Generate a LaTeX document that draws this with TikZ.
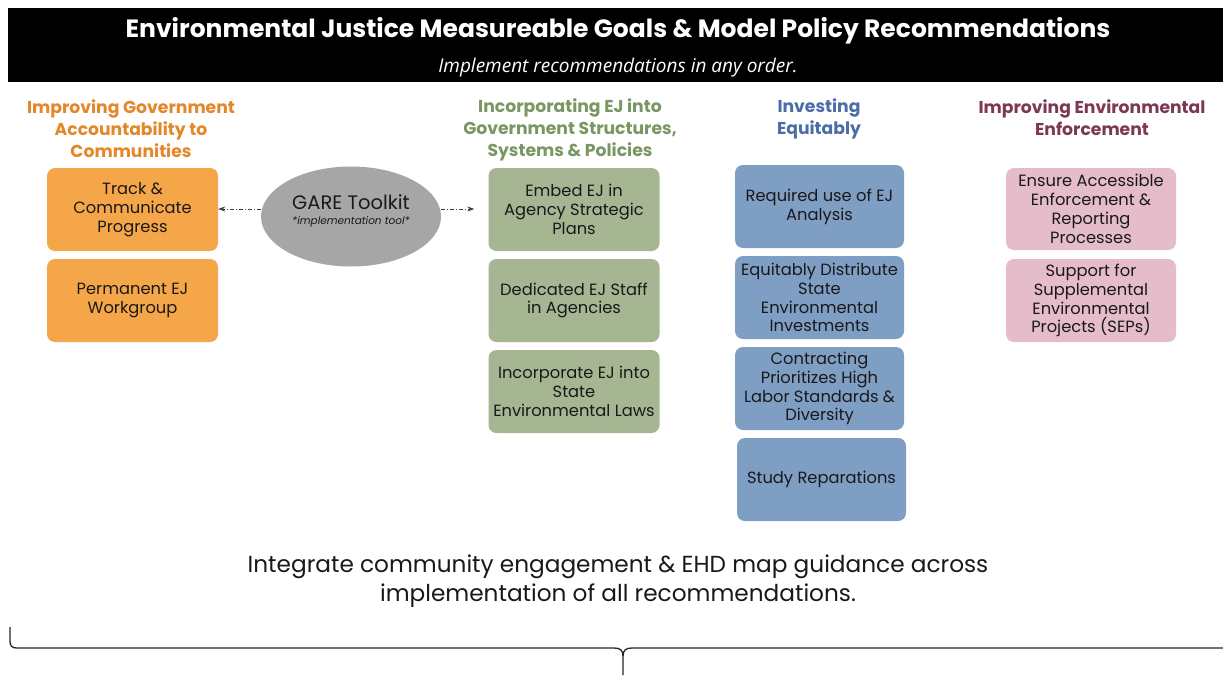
\documentclass[tikz,border=0pt]{standalone}
\usepackage{fontspec}
\setmainfont{Poppins}
\newfontfamily\subfont{Open Sans}
\usetikzlibrary{arrows.meta,shapes.geometric}
\definecolor{orhead}{RGB}{228,135,40}
\definecolor{orbox}{RGB}{244,166,72}
\definecolor{grhead}{RGB}{122,150,98}
\definecolor{grbox}{RGB}{166,181,146}
\definecolor{blhead}{RGB}{74,110,165}
\definecolor{blbox}{RGB}{127,158,196}
\definecolor{pkhead}{RGB}{126,56,85}
\definecolor{pkbox}{RGB}{229,188,202}
\definecolor{garegray}{RGB}{166,166,166}
\definecolor{txt}{RGB}{25,25,25}
\tikzset{
  itembox/.style={rounded corners=8pt, minimum width=171pt, minimum height=83pt, inner sep=2pt, align=center, text=txt, font=\fontsize{16.3}{18.8}\selectfont},
  headtxt/.style={align=center, font=\fontsize{17.2}{22}\selectfont\bfseries},
  conn/.style={-{Stealth[length=7pt,width=5pt]}, dash pattern=on 4pt off 2pt on 1pt off 2pt, line width=0.8pt, draw=black!75}
}
\begin{document}
\begin{tikzpicture}[x=1pt,y=-1pt]
\useasboundingbox (0,0) rectangle (1223,675);
\fill[white] (0,0) rectangle (1223,675);
% header
\fill[black] (8,8) rectangle (1223,82);
\node[text=white, font=\fontsize{25}{28}\selectfont\bfseries] (title) at (618,30.5) {Environmental Justice Measureable Goals \& Model Policy Recommendations};
\node[text=white, font=\subfont\itshape\fontsize{19}{22}\selectfont] (sub) at (618,67.5) {Implement recommendations in any order.};
% headings
\node[headtxt, text=orhead] (h1) at (131,129) {Improving Government\\Accountability to\\Communities};
\node[headtxt, text=grhead] (h2) at (570,130) {Incorporating EJ into\\Government Structures,\\Systems \& Policies};
\node[headtxt, text=blhead] (h3) at (819,119) {Investing\\Equitably};
\node[headtxt, text=pkhead] (h4) at (1092,117.5) {Improving Environmental\\Enforcement};
% orange
\node[itembox, fill=orbox] (o1) at (132.5,209.5) {Track \&\\Communicate\\Progress};
\node[itembox, fill=orbox] (o2) at (132.5,300.5) {Permanent EJ\\Workgroup};
% green
\node[itembox, fill=grbox] (g1) at (574,209.5) {Embed EJ in\\Agency Strategic\\Plans};
\node[itembox, fill=grbox] (g2) at (574,300.5) {Dedicated EJ Staff\\in Agencies};
\node[itembox, fill=grbox] (g3) at (574,391.5) {Incorporate EJ into\\State\\Environmental Laws};
% blue
\node[itembox, fill=blbox, minimum width=169pt] (b1) at (819.5,206.5) {Required use of EJ\\Analysis};
\node[itembox, fill=blbox, minimum width=169pt] (b2) at (819.5,297.5) {Equitably Distribute\\State\\Environmental\\Investments};
\node[itembox, fill=blbox, minimum width=169pt] (b3) at (819.5,388.5) {Contracting\\Prioritizes High\\Labor Standards \&\\Diversity};
\node[itembox, fill=blbox, minimum width=169pt] (b4) at (821.5,479.5) {Study Reparations};
% pink
\node[itembox, fill=pkbox, minimum width=170pt, minimum height=82pt] (p1) at (1091,209) {Ensure Accessible\\Enforcement \&\\Reporting\\Processes};
\node[itembox, fill=pkbox, minimum width=170pt] (p2) at (1091,300.5) {Support for\\Supplemental\\Environmental\\Projects (SEPs)};
% GARE
\node[ellipse, fill=garegray, minimum width=180pt, minimum height=100pt, inner sep=0pt, align=center] (gare) at (351,216.5) {};
\node[font=\fontsize{19.5}{22}\selectfont, text=txt] (garet) at (351,202) {GARE Toolkit};
\node[font=\fontsize{10.5}{12}\selectfont\itshape, text=txt] (garei) at (351,221.5) {*implementation tool*};
\coordinate (gl) at (261,209);
\coordinate (gr) at (441,209);
\draw[conn] (gl) -- (o1.east |- gl);
\draw[conn] (gr) -- ([xshift=-14pt]g1.west |- gr);
% bottom text
\node[align=center, text=txt, font=\fontsize{23.2}{29}\selectfont] (bottom) at (618,581.5) {Integrate community engagement \& EHD map guidance across\\implementation of all recommendations.};
% brace
\coordinate (bl) at (10,627);
\coordinate (bt) at (623,675);
\draw[line width=1.3pt, black!85] (bl) -- (10,641) .. controls (10,646) and (12,648) .. (17,648) -- (614,648) .. controls (620,648) and (623,650) .. (623,656) -- (bt);
\draw[line width=1.3pt, black!85] (623,656) .. controls (623,650) and (626,648) .. (632,648) -- (1223,648);
\end{tikzpicture}
\end{document}
